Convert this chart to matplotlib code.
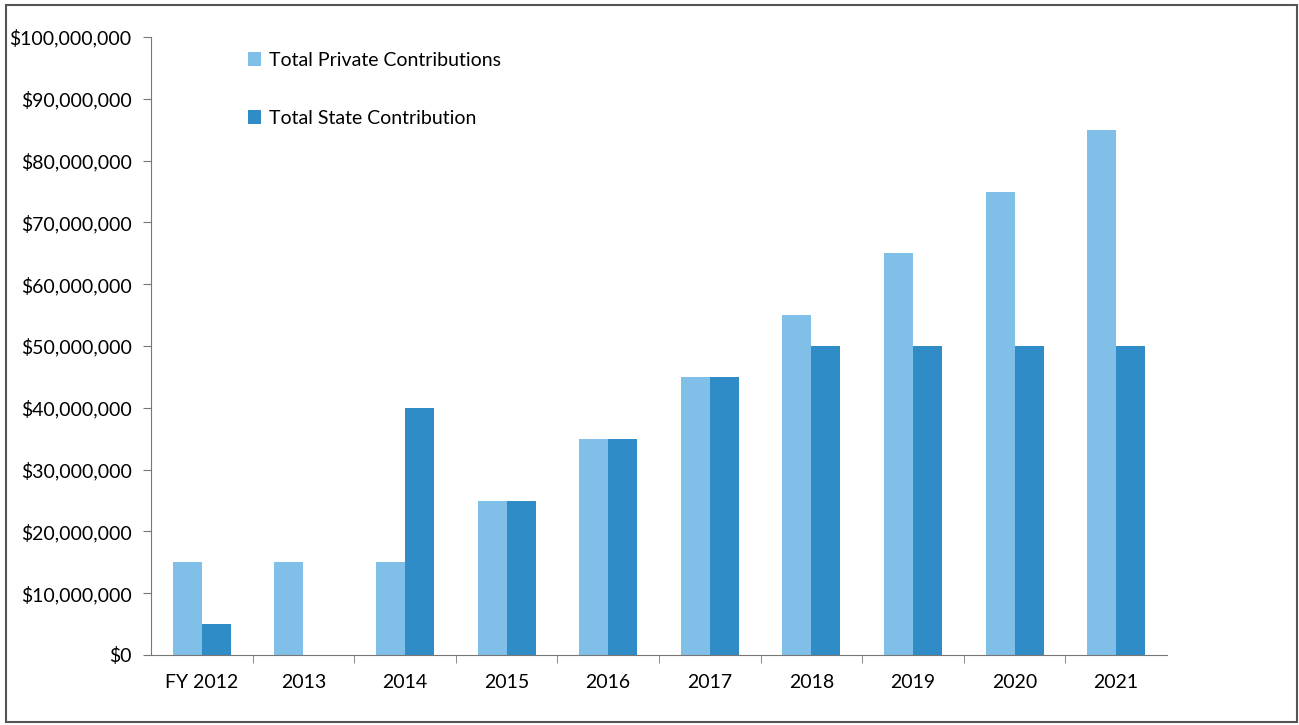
import matplotlib
matplotlib.use("Agg")
import matplotlib.pyplot as plt
from matplotlib.patches import Rectangle
from matplotlib.ticker import FuncFormatter, MultipleLocator
import numpy as np

categories = ["FY 2012", "2013", "2014", "2015", "2016", "2017", "2018", "2019", "2020", "2021"]
private = [15e6, 15e6, 15e6, 25e6, 35e6, 45e6, 55e6, 65e6, 75e6, 85e6]
state = [5e6, 0, 40e6, 25e6, 35e6, 45e6, 50e6, 50e6, 50e6, 50e6]
series_names = ["Total Private Contributions", "Total State Contribution"]

plt.rcParams['font.family'] = ['Lato', 'DejaVu Sans']

fig = plt.figure(figsize=(12.99, 7.25), dpi=100)
ax = fig.add_axes([151/1299, 1-655/725, (1167-151)/1299, (655-37)/725])

x = np.arange(len(categories))
w = 0.285
c_priv = "#80bfe8"
c_state = "#2f8cc6"
ax.bar(x - w/2, private, width=w, color=c_priv, label=series_names[0])
ax.bar(x + w/2, state, width=w, color=c_state, label=series_names[1])

ax.set_xlim(-0.5, len(categories) - 0.5)
ax.set_ylim(0, 100e6)
ax.yaxis.set_major_locator(MultipleLocator(10e6))
ax.yaxis.set_major_formatter(FuncFormatter(lambda v, p: f"${v:,.0f}"))
ax.set_xticks(x)
ax.set_xticklabels(categories)
ax.set_xticks(np.arange(0.5, len(categories) - 0.5, 1), minor=True)
ax.tick_params(axis='x', which='major', length=0, pad=14, labelsize=14)
ax.tick_params(axis='x', which='minor', length=6, direction='out', color="#777777")
ax.tick_params(axis='y', length=6, direction='out', color="#777777", labelsize=14, pad=8)
for s in ["top", "right"]:
    ax.spines[s].set_visible(False)
for s in ["left", "bottom"]:
    ax.spines[s].set_color("#777777")

leg = ax.legend(loc='upper left', bbox_to_anchor=(0.078, 1.004), frameon=False,
                fontsize=14, handlelength=0.7, handleheight=0.7, handletextpad=0.4,
                labelspacing=2.1)

fig.patches.append(Rectangle((6/1299, 1-722/725), (1297-6)/1299, (722-5)/725,
                             transform=fig.transFigure, fill=False,
                             edgecolor="#555555", linewidth=1.5))

fig.savefig("out.png", dpi=100)
